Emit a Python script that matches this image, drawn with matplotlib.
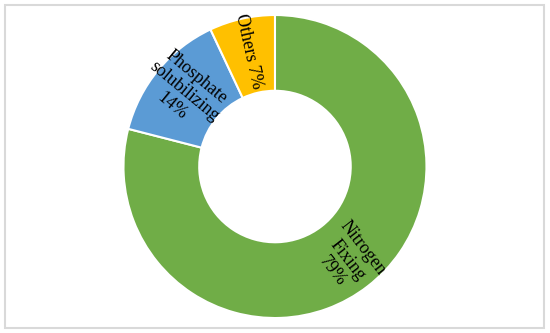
import matplotlib
matplotlib.use('Agg')
import matplotlib.pyplot as plt
from matplotlib.patches import Rectangle

labels = ['Nitrogen\nFixing\n79%', 'Phosphate\nsolubilizing\n14%', 'Others 7%']
shares = [79, 14, 7]
colors = ['#70AD47', '#5B9BD5', '#FFC000']

plt.rcParams['font.family'] = ['Liberation Serif', 'DejaVu Serif']

fig = plt.figure(figsize=(5.5, 3.33), dpi=100)
ax = fig.add_axes([0.2236, 0.045, 0.5527, 0.9099])

wedges, texts = ax.pie(shares, labels=labels, colors=colors, startangle=90,
                       counterclock=False, radius=1, labeldistance=0.78,
                       rotatelabels=True,
                       wedgeprops=dict(width=0.5, edgecolor='white', linewidth=1.5),
                       textprops=dict(fontsize=13, color='black'))
for t in texts:
    t.set_ha('center')
    t.set_va('center')
    t.set_multialignment('center')
    t.set_linespacing(1.15)

ax.set_xlim(-1, 1)
ax.set_ylim(-1, 1)
ax.set_aspect('equal')
ax.axis('off')

# light frame round the chart
fig.patches.append(Rectangle((0.0082, 0.015), 0.981, 0.97, transform=fig.transFigure,
                             fill=False, edgecolor='#d9d9d9', linewidth=1.5))

fig.savefig('out.png', dpi=100)
